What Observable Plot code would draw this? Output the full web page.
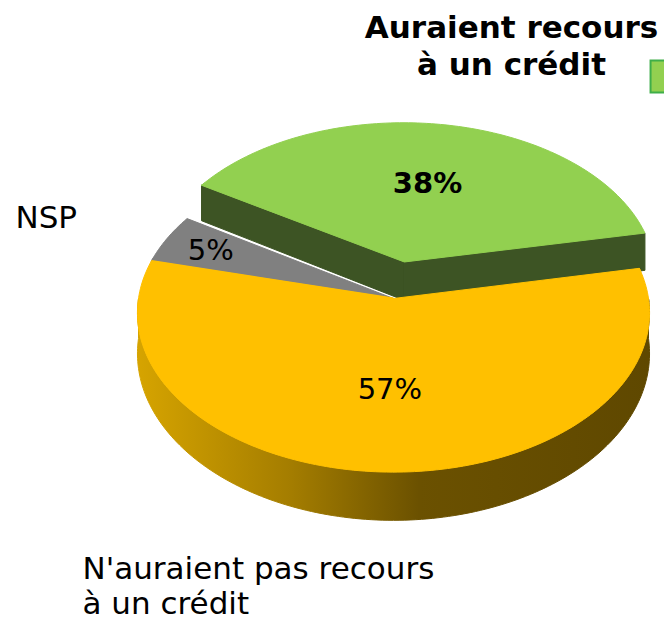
<!DOCTYPE html>
<html><head><meta charset="utf-8">
<script src="https://cdn.jsdelivr.net/npm/d3@7"></script>
<script src="https://cdn.jsdelivr.net/npm/@observablehq/plot@0.6"></script>
<style>
html,body{margin:0;padding:0;background:#fff;overflow:hidden;}
#chart{width:664px;height:617px;overflow:hidden;}
</style>
</head><body><div id="chart"></div>
<script>
// ---- data ----
const categories = ["Auraient recours\nà un crédit", "N'auraient pas recours\nà un crédit", "NSP"];
const values = [38, 57, 5];
const percentLabels = ["38%", "57%", "5%"];
const labelWeights = ["bold", "normal", "normal"];
const topColors = ["#92d050", "#ffc000", "#808080"];
const sideColors = ["#3d5424", "url(#goldSide)", "#5a5a5a"];
const explodeBy = [0.24, 0, 0];

// ---- geometry settings ----
const W = 664, H = 617;
const cx = 393, cy = 298, B = 255, A = 158;
const persp = 0.09, depthPx = 40, depthPersp = 0.17;
const startAngle = -58 * Math.PI / 180;
const hU = depthPx / A;

function proj(u, w, z) {
  return {x: u / (1 + persp * w), y: w / (1 + persp * w) - z * hU / (1 + depthPersp * w)};
}
function arcPts(a0, a1, ou, ow, z) {
  const n = Math.max(2, Math.ceil(Math.abs(a1 - a0) / 0.02));
  const pts = [];
  for (let k = 0; k <= n; k++) {
    const t = a0 + (a1 - a0) * k / n;
    pts.push(proj(ou + Math.sin(t), ow + Math.cos(t), z));
  }
  return pts;
}

const arcs = d3.pie().sort(null).value(d => d)
  .startAngle(startAngle).endAngle(startAngle + 2 * Math.PI)(values);

const slices = arcs.map((a, i) => {
  const mid = (a.startAngle + a.endAngle) / 2;
  return {i, a0: a.startAngle, a1: a.endAngle, mid,
    ou: explodeBy[i] * Math.sin(mid), ow: explodeBy[i] * Math.cos(mid)};
});
const n = slices.length;

// painter's order: farthest first
const order = slices.slice().sort((p, q) => Math.cos(q.mid) - Math.cos(p.mid));
const pieces = [];
for (const s of order) {
  const {i, a0, a1, ou, ow} = s;
  const prevEx = explodeBy[(i - 1 + n) % n] > 0, nextEx = explodeBy[(i + 1) % n] > 0;
  const exposed = explodeBy[i] > 0;
  if ((exposed || prevEx) && Math.sin(a0) < 0) {
    const c0 = proj(ou, ow, 0), e0 = proj(ou + Math.sin(a0), ow + Math.cos(a0), 0);
    const e1 = proj(ou + Math.sin(a0), ow + Math.cos(a0), 1), c1 = proj(ou, ow, 1);
    pieces.push({pts: [e0, e1, c1, c0, e0], fill: sideColors[i]});
  }
  if ((exposed || nextEx) && Math.sin(a1) > 0) {
    const c0 = proj(ou, ow, 0), e0 = proj(ou + Math.sin(a1), ow + Math.cos(a1), 0);
    const e1 = proj(ou + Math.sin(a1), ow + Math.cos(a1), 1), c1 = proj(ou, ow, 1);
    pieces.push({pts: [c0, e0, e1, c1, c0], fill: sideColors[i]});
  }
  for (let k = -1; k <= 1; k++) {
    const f0 = Math.PI / 2 + 2 * Math.PI * k, f1 = 3 * Math.PI / 2 + 2 * Math.PI * k;
    const s0 = Math.max(a0, f0), s1 = Math.min(a1, f1);
    if (s1 > s0) {
      const top = arcPts(s0, s1, ou, ow, 0);
      const bot = arcPts(s1, s0, ou, ow, 1);
      const all = top.concat(bot);
      pieces.push({pts: all.concat([all[0], all[1]]), fill: sideColors[i]});
    }
  }
  const arc = arcPts(a0, a1, ou, ow, 0);
  const apex = proj(ou, ow, 0);
  pieces.push({pts: arc.concat([apex, arc[0], arc[1]]), fill: topColors[i]});
}

// seams between adjacent non-exploded slices, painted in the nearer slice's colour
const seams = [];
for (const s of slices) {
  const t = slices[(s.i + 1) % n];
  if (explodeBy[s.i] === 0 && explodeBy[t.i] === 0) {
    const front = Math.cos(s.mid) < Math.cos(t.mid) ? s : t;
    seams.push({pts: [proj(0, 0, 0), proj(Math.sin(s.a1), Math.cos(s.a1), 0)], color: topColors[front.i]});
  }
}

const total = d3.sum(values);
const labelData = slices.map(s => {
  const r = values[s.i] / total < 0.1 ? 0.8 : 0.55;
  const p = proj(s.ou + r * Math.sin(s.mid), s.ow + r * Math.cos(s.mid), 0);
  return {...p, text: percentLabels[s.i], weight: labelWeights[s.i]};
});

function defs() {
  const d = d3.create("svg:defs");
  const g = d.append("linearGradient").attr("id", "goldSide")
    .attr("x1", 0).attr("x2", 1).attr("y1", 0).attr("y2", 0);
  [[0, "#d6a400"], [0.3, "#a47d00"], [0.55, "#6b5100"], [1, "#5f4800"]]
    .forEach(([o, c]) => g.append("stop").attr("offset", o).attr("stop-color", c));
  return d.node();
}

const marks = [defs];
for (const p of pieces) {
  marks.push(Plot.line(p.pts, {x: "x", y: "y", fill: p.fill, stroke: p.fill, strokeWidth: 1, strokeLinejoin: "round", curve: "linear"}));
}
for (const sm of seams) {
  marks.push(Plot.line(sm.pts, {x: "x", y: "y", stroke: sm.color, strokeWidth: 2, strokeLinecap: "butt"}));
}
marks.push(Plot.text(labelData.filter(d => d.weight === "bold"), {x: "x", y: "y", text: "text", fontSize: 29, fontWeight: "bold", fill: "black"}));
marks.push(Plot.text(labelData.filter(d => d.weight !== "bold"), {x: "x", y: "y", text: "text", fontSize: 29, fill: "black"}));

// category labels
marks.push(Plot.text([categories[0]], {text: d => d, frameAnchor: "top-left", dx: 511, dy: 33 - 0.71 * 31, textAnchor: "middle", lineAnchor: "top", lineHeight: 37 / 31, fontSize: 31, fontWeight: "bold", fill: "black"}));
marks.push(Plot.dot([categories[0]], {frameAnchor: "top-right", dx: 2, dy: 76, symbol: "square", r: 18, fill: topColors[0], stroke: "#3fae49", strokeWidth: 2}));
marks.push(Plot.text([categories[2]], {text: d => d, frameAnchor: "top-left", dx: 15, dy: 227 - 0.71 * 31, textAnchor: "start", lineAnchor: "top", fontSize: 31, fill: "black"}));
marks.push(Plot.text([categories[1]], {text: d => d, frameAnchor: "top-left", dx: 82, dy: 576 - 0.71 * 31, textAnchor: "start", lineAnchor: "top", lineHeight: 35 / 31, fontSize: 31, fill: "black"}));

const chart = Plot.plot({
  width: W, height: H, margin: 0,
  x: {domain: [-1, 1], range: [cx - B, cx + B], axis: null},
  y: {domain: [-1, 1], range: [cy + A, cy - A], axis: null},
  style: {fontFamily: "'DejaVu Sans', Verdana, sans-serif", background: "white", overflow: "hidden"},
  marks
});
document.getElementById("chart").appendChild(chart);
</script>
</body></html>
